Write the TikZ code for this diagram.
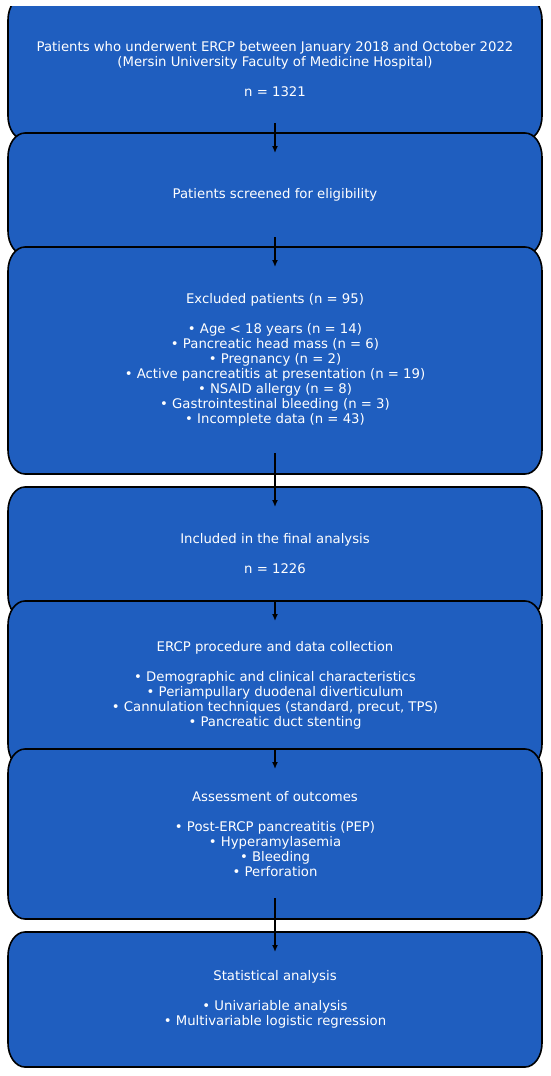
\documentclass[tikz,border=0pt]{standalone}
\usepackage{fontspec}
\setmainfont{DejaVu Sans}
\usetikzlibrary{arrows.meta}
\definecolor{boxblue}{RGB}{31,94,191}
\newcommand{\roundbox}[4]{%
  \filldraw[boxshape] ({#1+17},#2) -- ({#3-17},#2)
    .. controls ({#3-7.6},#2) and (#3,{#2+10.8}) .. (#3,{#2+24})
    -- (#3,{#4-24})
    .. controls (#3,{#4-10.8}) and ({#3-7.6},#4) .. ({#3-17},#4)
    -- ({#1+17},#4)
    .. controls ({#1+7.6},#4) and (#1,{#4-10.8}) .. (#1,{#4-24})
    -- (#1,{#2+24})
    .. controls (#1,{#2+10.8}) and ({#1+7.6},#2) .. ({#1+17},#2) -- cycle;}
\tikzset{
  boxshape/.style={fill=boxblue, draw=black, line width=1.6pt},
  txt/.style={text=white, align=center, inner sep=0pt, font=\fontsize{13.25}{15}\selectfont},
  arr/.style={draw=black, line width=1.7pt, -{Latex[length=7pt,width=6pt]}}
}
\begin{document}
\begin{tikzpicture}[x=1pt,y=-1pt]
\useasboundingbox (0,0) rectangle (550,1076);
\begin{scope}
\clip (0,6) rectangle (550,1076);
\roundbox{8}{-4}{542}{140}
\end{scope}
\roundbox{8}{133}{542}{255}
\roundbox{8}{247}{542}{474}
\roundbox{8}{487}{542}{619}
\roundbox{8}{601}{542}{768}
\roundbox{8}{749}{542}{919}
\roundbox{8}{932}{542}{1067}

\node[txt] (t1) at (275,69.5) {Patients who underwent ERCP between January 2018 and October 2022\\(Mersin University Faculty of Medicine Hospital)\\[15pt]n = 1321};
\node[txt] (t2) at (275,195) {Patients screened for eligibility};
\node[txt] (t3) at (275,360) {Excluded patients (n = 95)\\[15pt]• Age < 18 years (n = 14)\\• Pancreatic head mass (n = 6)\\• Pregnancy (n = 2)\\• Active pancreatitis at presentation (n = 19)\\• NSAID allergy (n = 8)\\• Gastrointestinal bleeding (n = 3)\\• Incomplete data (n = 43)};
\node[txt] (t4) at (275,554) {Included in the final analysis\\[15pt]n = 1226};
\node[txt] (t5) at (275,685.5) {ERCP procedure and data collection\\[15pt]• Demographic and clinical characteristics\\• Periampullary duodenal diverticulum\\• Cannulation techniques (standard, precut, TPS)\\• Pancreatic duct stenting};
\node[txt] (t6) at (275,834.5) {Assessment of outcomes\\[15pt]• Post-ERCP pancreatitis (PEP)\\• Hyperamylasemia\\• Bleeding\\• Perforation};
\node[txt] (t7) at (275,999.5) {Statistical analysis\\[15pt]• Univariable analysis\\• Multivariable logistic regression};

\coordinate (a1s) at (275,123); \coordinate (a1e) at (275,153);
\coordinate (a2s) at (275,237); \coordinate (a2e) at (275,267);
\coordinate (a3s) at (275,453); \coordinate (a3e) at (275,507);
\coordinate (a4s) at (275,601); \coordinate (a4e) at (275,621);
\coordinate (a5s) at (275,750); \coordinate (a5e) at (275,769);
\coordinate (a6s) at (275,898); \coordinate (a6e) at (275,952);
\draw[arr] (a1s) -- (a1e);
\draw[arr] (a2s) -- (a2e);
\draw[arr] (a3s) -- (a3e);
\draw[arr] (a4s) -- (a4e);
\draw[arr] (a5s) -- (a5e);
\draw[arr] (a6s) -- (a6e);
\end{tikzpicture}
\end{document}
